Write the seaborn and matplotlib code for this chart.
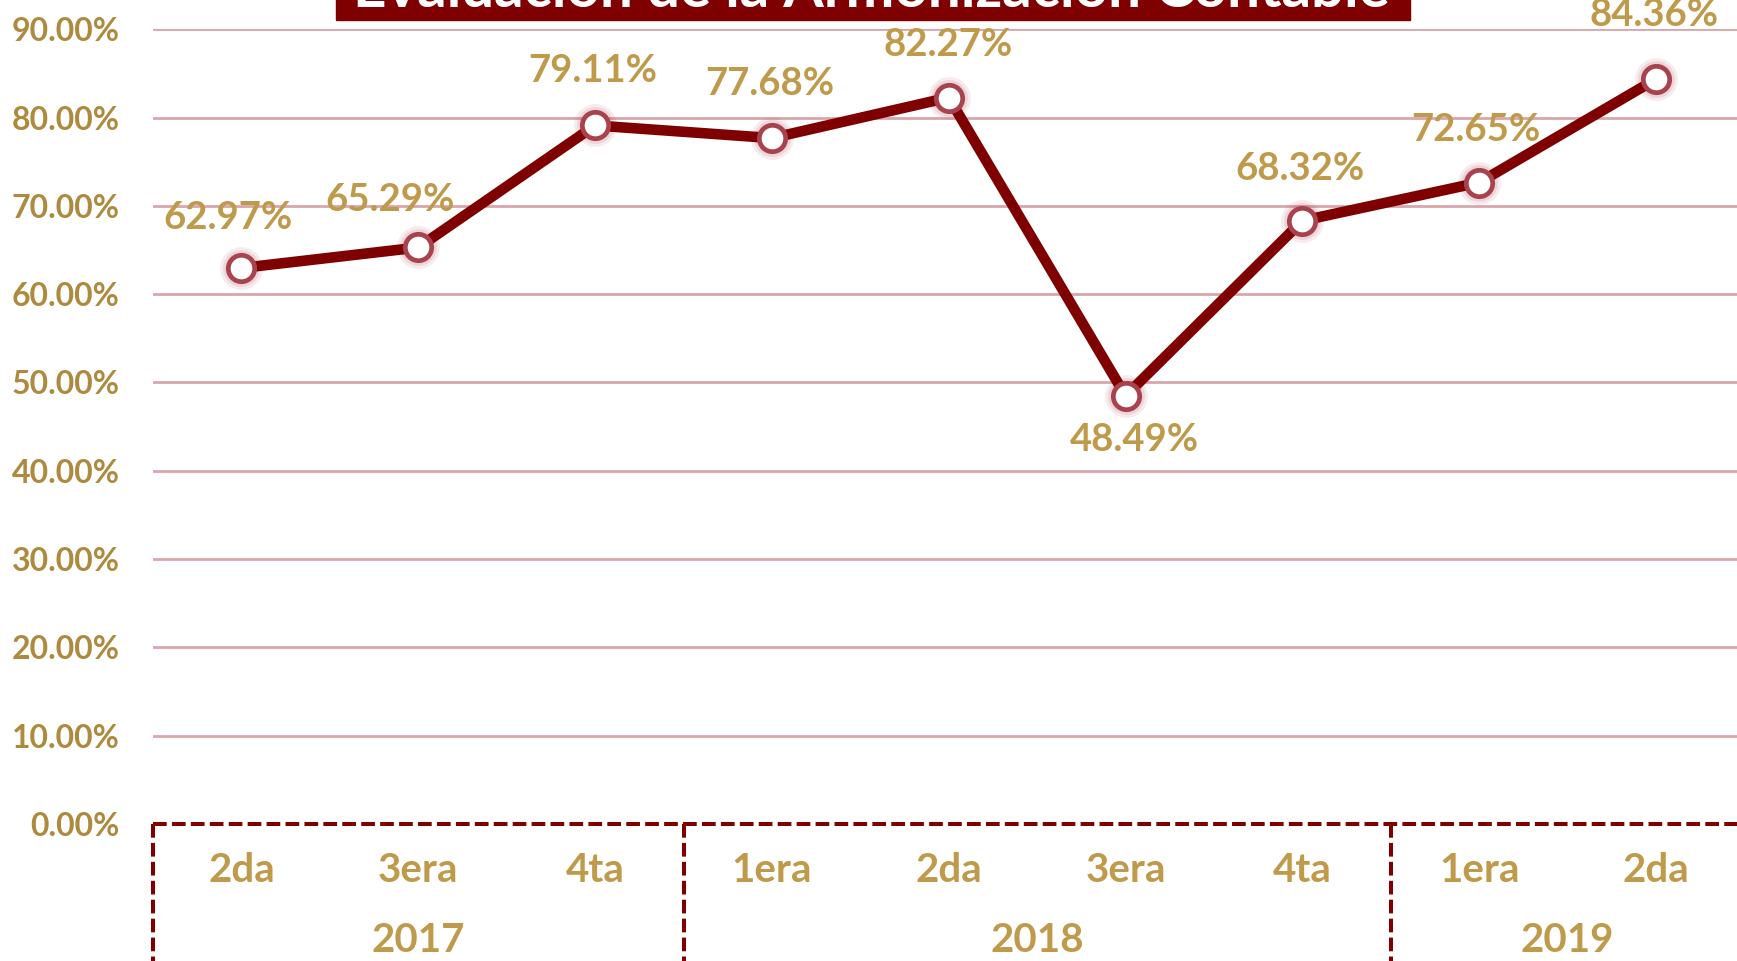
import matplotlib
matplotlib.use("Agg")
import matplotlib.pyplot as plt
import matplotlib.transforms as mtransforms
from matplotlib.lines import Line2D
from matplotlib.patches import Rectangle
import seaborn as sns
import pandas as pd

# ---- data ----
periods = ["2da", "3era", "4ta", "1era", "2da", "3era", "4ta", "1era", "2da"]
years = ["2017", "2018", "2019"]
year_counts = [3, 4, 2]
values = [62.97, 65.29, 79.11, 77.68, 82.27, 48.49, 68.32, 72.65, 84.36]
yticks = [0, 10, 20, 30, 40, 50, 60, 70, 80, 90]
title = "Evaluación de la Armonización Contable"

# label offsets in pixels (dx, dy) relative to the point
label_offsets = [(-13, 50), (-28, 47), (-2, 54), (-2, 54), (-1, 53),
                 (9, -44), (-2, 52), (-3, 53), (-2, 64)]

sns.set_theme(style="white")
plt.rcParams["font.family"] = ["Lato", "DejaVu Sans"]

W, H = 1737, 961
fig = plt.figure(figsize=(W / 100, H / 100), dpi=100)
left_px, right_px, top_px, bottom_px = 153, 1744.5, 29.3, 824
ax = fig.add_axes([left_px / W, 1 - bottom_px / H,
                   (right_px - left_px) / W, (bottom_px - top_px) / H])

DARK_RED = "#7F0000"
GOLD = "#BF9A4A"
GOLD_TICK = "#AD8A3E"
GRID = "#D9A6AB"

df = pd.DataFrame({"x": list(range(len(values))), "v": values})

# gridlines
for t in yticks[1:]:
    ax.axhline(t, color=GRID, lw=2.0, zorder=0)

# soft glow behind markers
ax.scatter(df["x"], df["v"], s=950, color="#B04050", alpha=0.10, zorder=2, linewidths=0)
ax.scatter(df["x"], df["v"], s=700, color="#B04050", alpha=0.12, zorder=2, linewidths=0)

sns.lineplot(data=df, x="x", y="v", ax=ax, color=DARK_RED, lw=7.6,
             marker="o", markersize=19, markerfacecolor="white",
             markeredgecolor="#A8434D", markeredgewidth=3.4, zorder=3)

for i, (v, (dx, dy)) in enumerate(zip(values, label_offsets)):
    ax.annotate(f"{v:.2f}%", (i, v), xytext=(dx, dy), textcoords="offset pixels",
                ha="center", va="center", fontsize=27.5, fontweight="bold",
                color=GOLD, annotation_clip=False, zorder=5)

ax.set_xlim(-0.5, len(values) - 0.5)
ax.set_ylim(0, 90)
ax.set_yticks(yticks)
ax.set_yticklabels([f"{t:.2f}%" for t in yticks])
ax.tick_params(axis="y", length=0, pad=24, labelsize=23, labelcolor=GOLD_TICK)
for lab in ax.get_yticklabels():
    lab.set_fontweight("bold")
ax.set_xticks([])
ax.set_xlabel("")
ax.set_ylabel("")
for s in ax.spines.values():
    s.set_visible(False)

# hierarchical category axis
trans = mtransforms.blended_transform_factory(ax.transData, fig.transFigure)
for i, p in enumerate(periods):
    ax.text(i, 1 - 870 / H, p, transform=trans, ha="center", va="center",
            fontsize=29, fontweight="bold", color=GOLD, clip_on=False)

dash = (0, (3.4, 1.3))
start = 0
bounds = [-0.5]
for y, c in zip(years, year_counts):
    center = start + (c - 1) / 2
    ax.text(center, 1 - 940 / H, y, transform=trans, ha="center", va="center",
            fontsize=29, fontweight="bold", color=GOLD, clip_on=False)
    start += c
    bounds.append(start - 0.5)

y0 = 1 - bottom_px / H
ax.add_line(Line2D([bounds[0], bounds[-1]], [y0, y0], transform=trans,
                   color=DARK_RED, lw=2.9, ls=dash, clip_on=False, zorder=4))
for b in bounds:
    ax.add_line(Line2D([b, b], [y0, -0.05], transform=trans,
                       color=DARK_RED, lw=2.9, ls=dash, clip_on=False, zorder=4))

# title banner (cut off at the top)
fig.patches.append(Rectangle((336 / W, 1 - 20 / H), (1410 - 336) / W, 60 / H,
                             transform=fig.transFigure, color=DARK_RED, zorder=10))
t = fig.text(871 / W, 1 - 7 / H, title, ha="center", va="baseline",
             fontsize=35, fontweight="bold", color="white", zorder=11)
fig.canvas.draw()
w = t.get_window_extent().width
t.set_fontsize(35 * 1038 / w)

fig.savefig("out.png", dpi=100)
